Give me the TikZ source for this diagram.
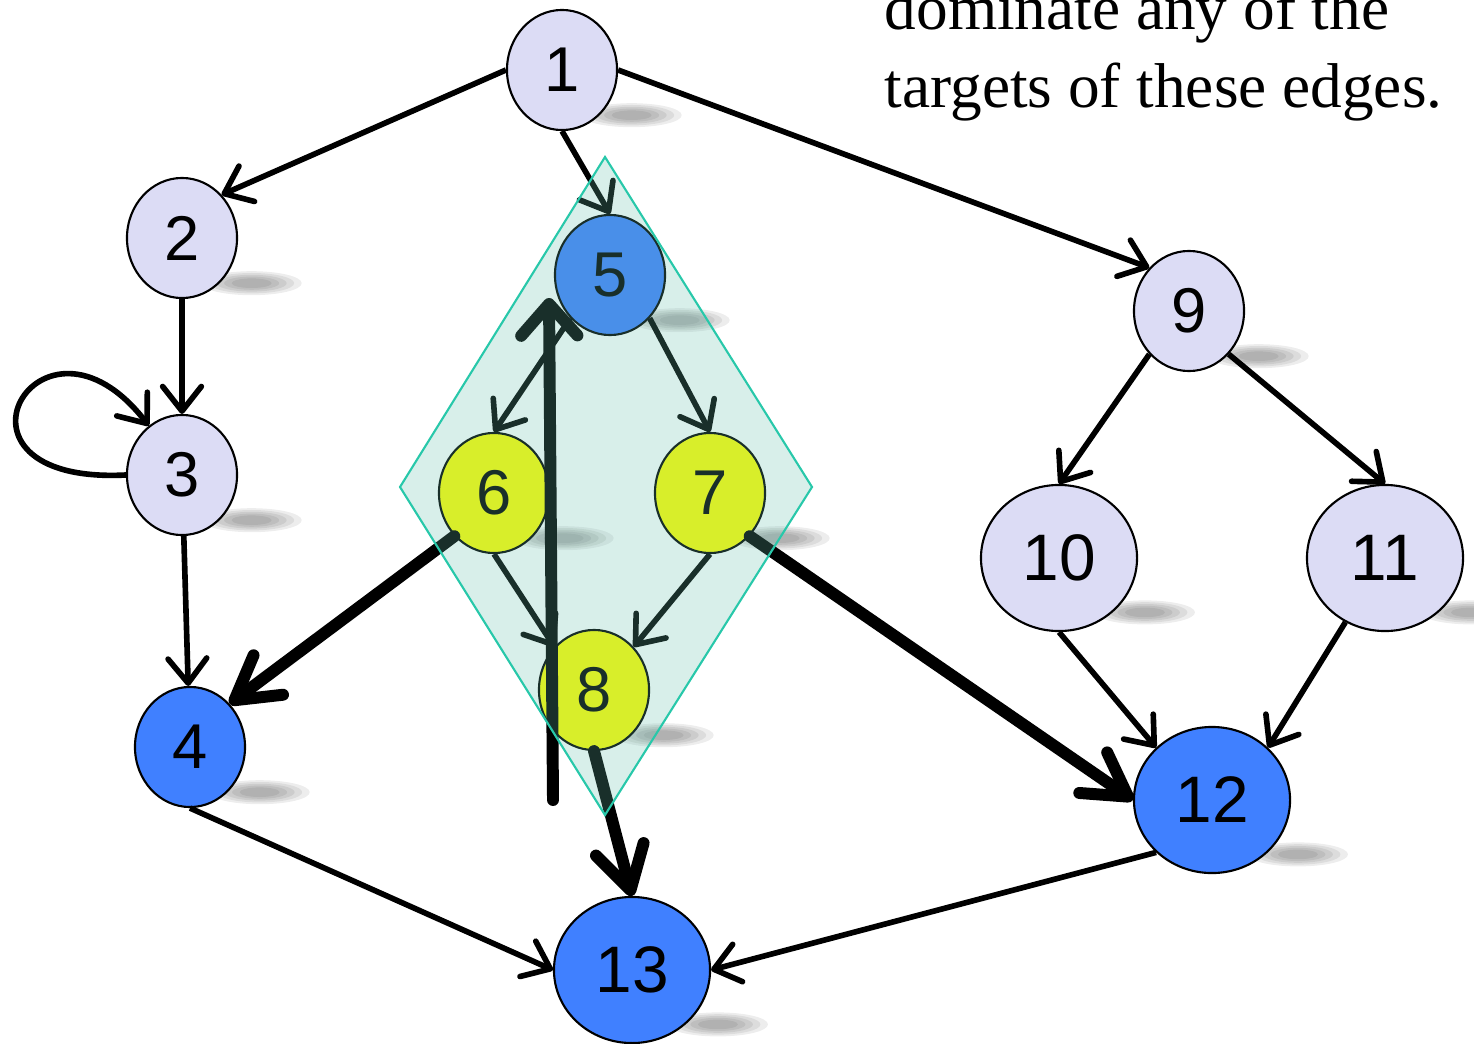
\documentclass[tikz,border=0pt]{standalone}
\usepackage{fontspec}
\setmainfont{Liberation Serif}
\setsansfont{Liberation Sans}
\usetikzlibrary{arrows.meta,shapes.geometric,backgrounds}
\definecolor{vlav}{RGB}{220,220,245}
\definecolor{vblue}{RGB}{64,128,255}
\definecolor{vyel}{RGB}{255,255,0}
\definecolor{hullfill}{RGB}{100,190,170}
\definecolor{hulledge}{RGB}{40,200,170}

\begin{document}
\begin{tikzpicture}[x=0.01cm,y=-0.01cm]
  \tikzstyle{vert}=[draw,ellipse,line width=0.6pt,inner sep=0pt,minimum width=1.1cm,minimum height=1.2cm,font=\sffamily\fontsize{18}{18}\selectfont]
  \tikzstyle{big}=[vert,minimum width=1.56cm,minimum height=1.46cm,font=\sffamily\fontsize{18.7}{18.7}\selectfont]
  \tikzstyle{edge}=[line width=1.6pt,-{Straight Barb[round,length=7pt,width=11pt]}]
  \tikzstyle{heavy}=[line width=3.4pt,line cap=round,-{Straight Barb[round,length=12pt,width=14pt]}]
  \tikzstyle{caption}=[anchor=base west,inner sep=0pt,font=\fontsize{18}{22}\selectfont]

  \useasboundingbox (0,0) rectangle (1474,1043);

  % the vertices
  \node[vert,fill=vlav] (n1) at (562,70) {1};
  \node[vert,fill=vlav] (n2) at (182,238) {2};
  \node[vert,fill=vlav] (n3) at (182,475) {3};
  \node[vert,fill=vblue] (n4) at (190,747) {4};
  \node[vert,fill=vblue] (n5) at (610,275) {5};
  \node[vert,fill=vyel] (n6) at (494,493) {6};
  \node[vert,fill=vyel] (n7) at (710,493) {7};
  \node[vert,fill=vyel] (n8) at (594,690) {8};
  \node[vert,fill=vlav] (n9) at (1189,311) {9};
  \node[big,fill=vlav] (n10) at (1059,558) {10};
  \node[big,fill=vlav] (n11) at (1385,558) {11};
  \node[big,fill=vblue] (n12) at (1212,800) {12};
  \node[big,fill=vblue] (n13) at (632,970) {13};

  \node[caption] (cap1) at (884,30) {dominate any of the};
  \node[caption] (cap2) at (884,108) {targets of these edges.};

  % soft shadows, built up from stacked ellipses
  \begin{scope}[on background layer]
    \foreach \v in {n1,n2,n3,n4,n5,n6,n7,n8,n9,n10,n11,n12,n13}
      \foreach \r in {1.0,0.85,0.7,0.55,0.4}
        \fill[black,opacity=.07]
          ([shift={(30,2)}]\v.south east) ellipse ({0.5cm*\r} and {0.12cm*\r});
  \end{scope}

  % ordinary edges
  \draw[edge] (n1.west) -- (n2.north east);
  \draw[edge] (n1.south) -- (n5.north);
  \draw[edge] (n1.east) -- (n9.north west);
  \draw[edge] (n2) -- (n3);
  \draw[edge] (n3.west) .. controls (-75,485) and (40,285) .. (n3.124);
  \draw[edge] (n3) -- (n4);
  \draw[edge] (n5.south west) -- (n6.north);
  \draw[edge] (n5.south east) -- (n7.north);
  \draw[edge] (n6.south) -- (n8.north west);
  \draw[edge] (n7.south) -- (n8.north east);
  \draw[edge] (n9.south west) -- (n10.north);
  \draw[edge] (n9.south east) -- (n11.north);
  \draw[edge] (n10.south) -- (n12.north west);
  \draw[edge] (n11) -- (n12.north east);
  \draw[edge] (n4.south) -- (n13.west);
  \draw[edge] (n12.south west) -- (n13.east);

  % heavy edges
  \draw[heavy] (n6.south west) -- (n4.north east);
  \draw[heavy] (n7.south east) -- (n12.west);
  \draw[heavy] (n8.south) -- (n13.north);
  \coordinate (backfoot) at (553,800);
  \coordinate (backhead) at (549,298);
  \draw[heavy,-{Straight Barb[round,length=9pt,width=16pt]}] (backfoot) -- (backhead);

  % region around 5..8
  \draw[hulledge,line width=0.6pt,fill=hullfill,fill opacity=.25]
    (605,157) -- (812,487) -- (605,815) -- (400,487) -- cycle;
\end{tikzpicture}
\end{document}
